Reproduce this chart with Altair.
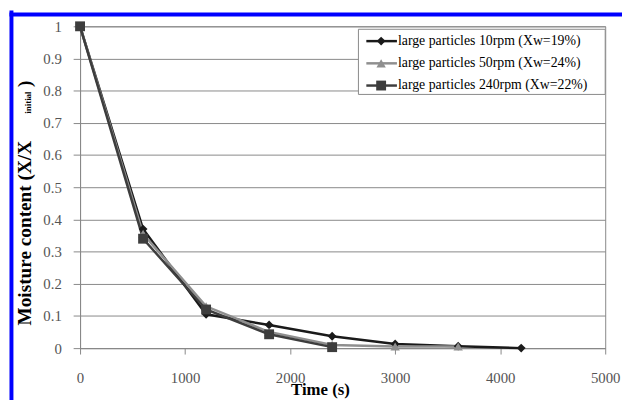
import altair as alt
import pandas as pd

series_names = [
    "large particles 10rpm (Xw=19%)",
    "large  particles 50rpm (Xw=24%)",
    "large particles 240rpm (Xw=22%)",
]
times_10 = [0, 600, 1200, 1800, 2400, 3000, 3600, 4200]
vals_10 = [1.0, 0.37, 0.105, 0.072, 0.037, 0.013, 0.006, 0.0]
times_50 = [0, 600, 1200, 1800, 2400, 3000, 3600]
vals_50 = [1.0, 0.355, 0.13, 0.05, 0.01, 0.005, 0.005]
times_240 = [0, 600, 1200, 1800, 2400]
vals_240 = [1.0, 0.34, 0.12, 0.043, 0.003]

x_ticks = [0, 1000, 2000, 3000, 4000, 5000]
y_ticks = [0, 0.1, 0.2, 0.3, 0.4, 0.5, 0.6, 0.7, 0.8, 0.9, 1.0]

colors = ["#1a1a1a", "#8f8f8f", "#3d3d3d"]
shapes = ["diamond", "triangle-up", "square"]
sizes = [80, 100, 110]

rows = []
for name, ts, vs in zip(series_names, [times_10, times_50, times_240], [vals_10, vals_50, vals_240]):
    for t, v in zip(ts, vs):
        rows.append({"series": name, "t": t, "v": v})
df = pd.DataFrame(rows)
legend_df = pd.DataFrame({"series": series_names, "row": list(range(len(series_names)))})

color_scale = alt.Scale(domain=series_names, range=colors)
shape_scale = alt.Scale(domain=series_names, range=shapes)
size_scale = alt.Scale(domain=series_names, range=sizes)

x_enc = alt.X("t:Q", scale=alt.Scale(domain=[0, 5000], nice=False),
              axis=alt.Axis(values=x_ticks, format="d", grid=False, tickSize=6, labelPadding=17,
                            labelFlush=False,
                            title="Time (s)", titleFont="Liberation Serif", titleFontSize=17,
                            titleFontWeight="bold", titleColor="black",
                            titleX=243, titleY=47, titleBaseline="alphabetic", titleAlign="center"))
y_enc = alt.Y("v:Q", scale=alt.Scale(domain=[0, 1], nice=False),
              axis=alt.Axis(values=y_ticks, format="~g", grid=True, tickSize=7,
                            labelPadding=12, title=None))

lines = alt.Chart(df).mark_line(strokeWidth=2.5).encode(
    x=x_enc, y=y_enc, color=alt.Color("series:N", scale=color_scale, legend=None))
points = alt.Chart(df).mark_point(filled=True, opacity=1).encode(
    x="t:Q", y=alt.Y("v:Q", scale=alt.Scale(domain=[0, 1], nice=False), axis=None),
    color=alt.Color("series:N", scale=color_scale, legend=None),
    shape=alt.Shape("series:N", scale=shape_scale, legend=None),
    size=alt.Size("series:N", scale=size_scale, legend=None),
)

# legend (entries driven by the series list)
leg_y = alt.Y("row:O", scale=alt.Scale(type="point", domain=[0, 1, 2], range=[15, 60], padding=0), axis=None)
one = alt.Data(values=[{"k": 1}])
leg_box = alt.Chart(one).mark_rect(fill="white", stroke="#888", strokeWidth=1).encode(
    x=alt.value(282), x2=alt.value(532), y=alt.value(3), y2=alt.value(69))
leg_lines = alt.Chart(legend_df).mark_rule(strokeWidth=2.5).encode(
    x=alt.value(290), x2=alt.value(321), y=leg_y,
    color=alt.Color("series:N", scale=color_scale, legend=None))
leg_pts = alt.Chart(legend_df).mark_point(filled=True, opacity=1).encode(
    x=alt.value(305), y=leg_y,
    color=alt.Color("series:N", scale=color_scale, legend=None),
    shape=alt.Shape("series:N", scale=shape_scale, legend=None),
    size=alt.Size("series:N", scale=size_scale, legend=None),
)
leg_text = alt.Chart(legend_df).mark_text(
    align="left", baseline="middle", font="Liberation Serif", fontSize=14, color="black"
).encode(x=alt.value(322), y=leg_y, text="series:N")

title_main = alt.Chart(one).mark_text(
    text="Moisture content (X/X", angle=270, align="left", baseline="alphabetic",
    font="Liberation Serif", fontSize=19.5, fontWeight="bold", color="black",
).encode(x=alt.value(-50), y=alt.value(303))
title_sub = alt.Chart(one).mark_text(
    text="initial", angle=270, align="right", baseline="alphabetic",
    font="Liberation Serif", fontSize=9, fontWeight="bold", color="black",
).encode(x=alt.value(-49.5), y=alt.value(66))
title_end = alt.Chart(one).mark_text(
    text=")", angle=270, align="right", baseline="alphabetic",
    font="Liberation Serif", fontSize=19.5, fontWeight="bold", color="black",
).encode(x=alt.value(-50), y=alt.value(55))

border_left = alt.Chart(one).mark_rule(color="#0000ff", strokeWidth=4).encode(
    x=alt.value(-69.5), y=alt.value(-16), y2=alt.value(390))
border_top = alt.Chart(one).mark_rule(color="#0000ff", strokeWidth=4).encode(
    y=alt.value(-12), x=alt.value(-71.5), x2=alt.value(560))

chart = alt.layer(
    lines, points, leg_box, leg_lines, leg_pts, leg_text,
    title_main, title_sub, title_end, border_left, border_top,
).resolve_scale(y="independent").properties(
    width=532, height=326, background="white",
    autosize=alt.AutoSizeParams(type="none"),
    padding={"left": 73, "top": 16, "right": 17, "bottom": 50},
).configure_view(stroke="#888", strokeWidth=1).configure_axis(
    labelFont="Liberation Serif", labelFontSize=15, labelColor="#555",
    domainColor="#888", tickColor="#888", gridColor="#888", gridWidth=1,
    domainWidth=1, tickWidth=1,
)

chart.save("out.html", embed_options={"renderer": "svg", "actions": False})
